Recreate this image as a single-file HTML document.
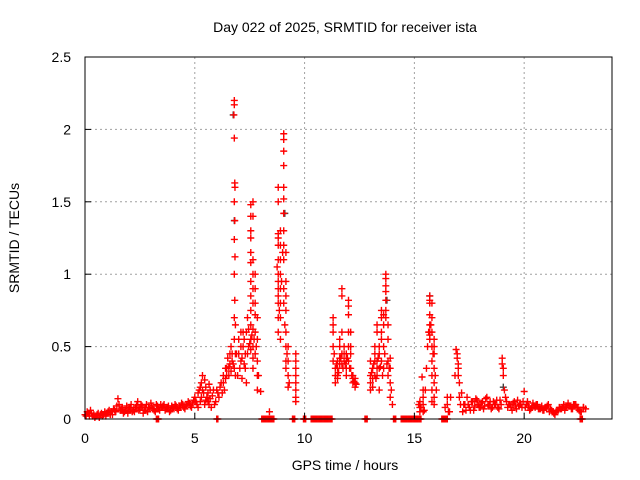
<!DOCTYPE html>
<html><head><meta charset="utf-8"><style>
html,body{margin:0;padding:0;background:#fff;}
svg{display:block;font-family:"Liberation Sans",sans-serif;}
</style></head><body>
<svg id="chart" width="640" height="480">
<text x="345" y="32" text-anchor="middle" font-size="14">Day 022 of 2025, SRMTID for receiver ista</text>
<text x="345" y="470" text-anchor="middle" font-size="14">GPS time / hours</text>
<text x="19" y="238" text-anchor="middle" font-size="14" transform="rotate(-90 19 238)">SRMTID / TECUs</text>
<g id="grid"></g><g id="marks"></g><g id="axes"></g>
</svg>
<script>
const xTicks=[0,5,10,15,20];
const yTicks=[0,0.5,1,1.5,2,2.5];
const yTickLabels=["0","0.5","1","1.5","2","2.5"];
const times=[0,0.05,0.1,0.2,0.25,0.3,0.4,0.45,0.5,0.6,0.7,0.8,0.9,1.0,1.1,1.2,1.3,1.4,1.5,1.55,1.6,1.7,1.8,1.9,2.0,2.1,2.2,2.3,2.4,2.5,2.6,2.7,2.8,2.9,3.0,3.1,3.2,3.3,3.4,3.5,3.6,3.7,3.8,3.9,4.0,4.1,4.2,4.3,4.4,4.5,4.6,4.7,4.8,4.9,
1.25,1.75,2.15,2.45,2.65,2.95,3.45,3.85,4.25,4.55,4.85,
5.0,5.1,5.2,5.25,5.3,5.35,5.4,5.45,5.5,5.55,5.6,5.7,5.75,5.8,5.9,6.0,6.1,6.2,6.25,6.3,6.35,6.4,6.45,6.5,6.55,6.6,6.65,6.7,
6.8,6.8,6.78,6.8,6.82,6.83,6.8,6.82,6.8,6.83,6.8,6.82,6.8,6.85,6.8,6.85,6.8,6.85,
7.0,7.0,7.05,7.1,7.1,7.15,7.2,7.25,7.3,7.35,7.35,7.4,7.45,
7.55,7.55,7.55,7.55,7.55,7.55,7.55,7.55,7.55,7.55,7.55,7.55,
7.65,7.65,7.65,7.65,7.65,7.65,7.65,7.65,7.65,7.65,
7.75,7.75,7.75,7.75,7.75,7.75,7.85,7.85,7.85,7.85,7.85,8.0,8.4,
8.8,8.8,8.8,8.8,8.8,8.8,8.8,8.8,8.8,8.8,8.8,8.8,8.8,
8.9,8.9,8.9,8.9,8.9,8.9,8.9,8.9,
9.05,9.05,9.05,9.05,9.05,9.05,9.05,9.05,9.05,9.05,9.05,9.05,
9.15,9.15,9.15,9.15,9.15,9.15,9.15,9.15,9.25,9.25,9.25,9.25,
9.6,9.6,9.6,9.6,9.6,9.6,9.6,9.6,
11.3,11.3,11.3,11.3,11.3,11.4,11.4,11.4,11.5,11.5,11.5,11.5,11.6,11.6,11.6,11.6,11.7,11.7,11.7,11.7,11.7,11.8,11.8,11.8,11.9,11.9,11.9,11.9,12.0,12.0,12.0,12.0,12.0,12.0,12.1,12.1,12.1,12.1,12.2,12.2,12.2,12.3,12.3,12.3,
13.0,13.0,13.0,13.0,13.1,13.1,13.1,13.2,13.2,13.2,13.2,13.3,13.3,13.3,13.3,13.3,13.4,13.4,13.4,13.4,13.5,13.5,13.5,13.5,13.5,13.6,13.6,13.6,13.6,13.7,13.7,13.7,13.7,13.7,13.7,13.7,13.8,13.8,13.8,13.8,13.9,13.9,13.9,13.9,
15.25,15.25,15.25,15.25,15.35,15.4,15.4,15.4,15.4,
15.7,15.7,15.7,15.7,15.7,15.7,15.7,15.7,15.8,15.8,15.8,15.8,15.8,15.8,15.8,15.8,15.9,15.9,15.9,15.9,15.9,15.9,15.9,
16.5,16.5,16.6,16.9,16.95,16.95,17.0,17.0,17.0,17.05,17.05,17.1,
17.2,17.3,17.4,17.5,17.6,17.7,17.8,17.9,18.0,18.1,18.2,18.3,18.4,18.5,18.6,18.7,18.8,18.9,
19.0,19.0,19.05,19.05,19.1,
19.2,19.3,19.4,19.5,19.6,19.7,19.8,19.9,20.0,20.1,20.2,20.3,20.4,20.5,20.6,20.7,20.8,20.9,21.0,21.1,21.2,21.3,21.4,21.5,21.6,21.7,21.8,21.9,22.0,22.1,22.2,22.3,22.4,22.5,22.6,22.7,22.8,
19.45,19.95,20.35,20.75,21.15,21.55,21.95,22.35,
3.3,6.0,8.1,8.2,8.3,8.45,8.6,9.5,10.0,10.3,10.45,10.6,10.75,10.9,11.05,11.2,12.8,14.1,14.4,14.55,14.7,14.85,15.0,15.15,15.3,16.3,16.45,22.6];
const values=[0.03,0.02,0.05,0.02,0.06,0.04,0.03,0.01,0.02,0.04,0.03,0.02,0.05,0.04,0.06,0.05,0.07,0.05,0.14,0.1,0.06,0.08,0.05,0.09,0.07,0.1,0.06,0.08,0.12,0.07,0.09,0.06,0.1,0.08,0.11,0.07,0.05,0.09,0.06,0.08,0.1,0.07,0.09,0.06,0.08,0.1,0.07,0.09,0.11,0.08,0.1,0.12,0.09,0.11,
0.03,0.04,0.05,0.06,0.04,0.07,0.1,0.05,0.06,0.07,0.08,
0.15,0.1,0.2,0.12,0.25,0.3,0.18,0.1,0.22,0.15,0.12,0.2,0.08,0.16,0.1,0.2,0.15,0.25,0.18,0.3,0.2,0.28,0.35,0.42,0.3,0.38,0.5,0.45,
2.2,2.17,2.1,1.94,1.63,1.6,1.5,1.37,1.24,1.12,1.0,0.82,0.7,0.65,0.55,0.45,0.35,0.3,
0.55,0.45,0.35,0.6,0.4,0.28,0.5,0.38,0.45,0.6,0.25,0.7,0.5,
1.48,1.4,1.3,1.25,1.15,1.08,0.95,0.85,0.75,0.65,0.55,0.48,
1.5,1.4,1.1,1.0,0.9,0.8,0.62,0.5,0.42,0.35,
1.0,0.9,0.8,0.72,0.6,0.45,0.7,0.55,0.4,0.3,0.2,0.19,0.05,
1.6,1.5,1.28,1.25,1.2,1.1,1.0,0.95,0.9,0.85,0.8,0.7,0.6,
1.3,1.2,1.1,1.0,0.9,0.8,0.7,0.55,
1.97,1.93,1.85,1.75,1.6,1.52,1.42,1.3,1.2,1.1,0.9,0.8,
1.15,0.95,0.85,0.75,0.6,0.5,0.4,0.35,0.5,0.4,0.3,0.22,
0.45,0.4,0.35,0.3,0.25,0.2,0.15,0.12,
0.7,0.65,0.6,0.5,0.4,0.35,0.3,0.25,0.4,0.35,0.3,0.28,0.55,0.5,0.42,0.38,0.9,0.85,0.6,0.45,0.38,0.5,0.45,0.4,0.45,0.4,0.35,0.3,0.82,0.78,0.72,0.6,0.5,0.4,0.6,0.5,0.45,0.35,0.3,0.28,0.25,0.28,0.25,0.22,
0.4,0.3,0.25,0.2,0.35,0.28,0.22,0.5,0.45,0.4,0.3,0.65,0.6,0.4,0.35,0.3,0.5,0.45,0.35,0.2,0.75,0.7,0.6,0.55,0.4,0.72,0.65,0.5,0.35,1.0,0.97,0.92,0.88,0.82,0.75,0.7,0.65,0.55,0.4,0.3,0.42,0.35,0.25,0.15,
0.12,0.1,0.08,0.05,0.29,0.2,0.15,0.1,0.05,
0.85,0.82,0.8,0.72,0.65,0.6,0.58,0.55,0.8,0.7,0.6,0.5,0.4,0.3,0.2,0.12,0.55,0.5,0.45,0.35,0.25,0.15,0.1,
0.15,0.1,0.05,0.48,0.45,0.42,0.38,0.35,0.3,0.25,0.15,0.1,
0.05,0.1,0.15,0.08,0.12,0.06,0.14,0.1,0.08,0.12,0.09,0.15,0.1,0.07,0.12,0.1,0.08,0.13,
0.42,0.38,0.35,0.3,0.2,
0.12,0.1,0.08,0.11,0.09,0.13,0.1,0.08,0.19,0.1,0.09,0.07,0.11,0.08,0.1,0.07,0.09,0.06,0.08,0.1,0.07,0.05,0.03,0.06,0.08,0.07,0.1,0.08,0.11,0.09,0.07,0.1,0.08,0.06,0.05,0.08,0.07,
0.06,0.12,0.08,0.07,0.05,0.06,0.09,0.1,
0,0,0,0,0,0,0,0,0,0,0,0,0,0,0,0,0,0,0,0,0,0,0,0,0,0,0,0];
const extraTimes=[0.15,0.35,0.55,0.65,0.75,0.85,0.95,1.05,1.15,1.35,1.45,1.65,1.85,1.95,2.05,2.25,2.35,2.55,2.75,2.85,3.05,3.15,3.25,3.35,3.55,3.65,3.75,3.95,4.05,4.15,4.35,4.45,4.65,4.75,4.95,
5.05,5.15,5.15,5.25,5.3,5.35,5.45,5.5,5.6,5.65,5.65,5.7,5.85,5.95,6.05,6.15,6.3,6.4,6.45,6.55,6.6,6.65,6.7,6.75,6.9,6.95,
7.1,7.15,7.2,7.25,7.3,7.4,7.45,7.5,7.6,7.7,7.8,7.9,
8.75,8.85,8.95,9.0,9.1,9.2,9.3,
11.35,11.45,11.55,11.65,11.75,11.85,11.95,12.05,12.15,12.25,12.35,
13.05,13.15,13.25,13.35,13.45,13.55,13.65,13.75,13.85,13.95,14.0,
15.2,15.3,15.45,15.5,15.55,15.6,15.65,15.75,15.85,15.95,16.0,16.4,16.55,16.65,16.85,17.15,17.25,17.35,
17.45,17.55,17.65,17.75,17.85,17.95,18.05,18.15,18.25,18.35,18.45,18.55,18.65,18.75,18.85,18.95,19.15,19.25,19.35,19.55,19.65,19.75,19.85,20.05,20.15,20.25,20.45,20.55,20.65,20.85,20.95,21.05,21.25,21.35,21.45,21.65,21.75,21.85,22.05,22.15,22.25,22.45,22.55,22.7,
3.25,3.35,6.05,8.05,8.15,8.25,8.35,8.4,8.5,8.55,9.45,9.55,9.95,10.05,10.35,10.4,10.5,10.55,10.65,10.7,10.8,10.85,10.95,11.0,11.1,11.15,11.25,12.75,12.85,14.05,14.15,14.45,14.5,14.6,14.65,14.75,14.8,14.9,14.95,15.05,15.1,15.2,15.25,16.25,16.35,16.4,16.5,22.55,22.65];
const extraValues=[0.04,0.02,0.03,0.01,0.04,0.03,0.02,0.05,0.03,0.06,0.09,0.07,0.06,0.04,0.08,0.05,0.09,0.1,0.08,0.05,0.09,0.06,0.1,0.07,0.09,0.06,0.08,0.09,0.07,0.09,0.08,0.1,0.09,0.11,0.13,
0.12,0.18,0.08,0.22,0.15,0.2,0.27,0.13,0.18,0.1,0.24,0.14,0.2,0.12,0.18,0.22,0.25,0.35,0.3,0.36,0.45,0.33,0.4,0.38,0.45,0.3,
0.5,0.42,0.6,0.55,0.35,0.45,0.62,0.52,0.58,0.55,0.5,0.3,
1.05,0.75,0.95,1.15,0.65,0.45,0.25,
0.45,0.38,0.32,0.42,0.35,0.38,0.42,0.35,0.3,0.26,0.24,
0.32,0.38,0.28,0.42,0.36,0.3,0.45,0.38,0.35,0.2,0.1,
0.1,0.08,0.06,0.2,0.35,0.5,0.6,0.65,0.45,0.3,0.2,0.08,0.05,0.15,0.3,0.18,0.1,0.06,
0.1,0.06,0.12,0.09,0.13,0.08,0.11,0.07,0.14,0.09,0.12,0.08,0.1,0.13,0.07,0.1,0.15,0.08,0.1,0.12,0.07,0.09,0.1,0.08,0.12,0.06,0.09,0.1,0.07,0.06,0.08,0.09,0.06,0.04,0.05,0.07,0.08,0.06,0.09,0.07,0.1,0.08,0.05,0.08,
0,0,0,0,0,0,0,0,0,0,0,0,0,0,0,0,0,0,0,0,0,0,0,0,0,0,0,0,0,0,0,0,0,0,0,0,0,0,0,0,0,0,0,0,0,0,0,0,0];
const grayTimes=[6.75,6.8,9.1,13.75,15.7,19.05];
const grayValues=[2.1,1.37,1.42,0.82,0.85,0.22];
const L=85,R=612,T=57,B=419,XMAX=24,YMAX=2.5;
const xs=t=>L+(R-L)*t/XMAX;
const ys=v=>B-(B-T)*v/YMAX;
const NS='http://www.w3.org/2000/svg';
function mk(tag,attrs,parent){const e=document.createElementNS(NS,tag);for(const k in attrs)e.setAttribute(k,attrs[k]);parent.appendChild(e);return e;}
const grid=document.getElementById('grid'),marks=document.getElementById('marks'),axes=document.getElementById('axes');
xTicks.forEach(t=>{
  if(t>0){const g=mk('line',{x1:xs(t),x2:xs(t),y1:T,y2:B,stroke:'#a0a0a0','stroke-dasharray':'2,3'},grid);
  
  }
  const tk=mk('line',{x1:xs(t),x2:xs(t),y1:B,y2:B-6,stroke:'#000'},axes);
  
  
  const lb=mk('text',{x:xs(t),y:B+24,'text-anchor':'middle','font-size':'14'},axes);lb.textContent=String(t);
  
  
});
yTicks.forEach((v,i)=>{
  if(v>0&&v<YMAX){const g=mk('line',{x1:L,x2:R,y1:ys(v),y2:ys(v),stroke:'#a0a0a0','stroke-dasharray':'2,3'},grid);
  
  }
  const tk=mk('line',{x1:L,x2:L+6,y1:ys(v),y2:ys(v),stroke:'#000'},axes);
  
  
  const lb=mk('text',{x:L-14,y:ys(v)+5,'text-anchor':'end','font-size':'14'},axes);lb.textContent=yTickLabels[i];
  
  
});
const frame=mk('rect',{x:L,y:T,width:R-L,height:B-T,fill:'none',stroke:'#000'},axes);


function plus(t,v,color,name){
  const x=xs(t),y=ys(v);
  const p=mk('path',{d:`M${x-3.5},${y}H${x+3.5}M${x},${y-3.5}V${y+3.5}`,stroke:color,'stroke-width':'1.4',fill:'none'},marks);
  
  
}
grayTimes.forEach((t,i)=>plus(t,grayValues[i],'#404040','gray-point'));
times.forEach((t,i)=>plus(t,values[i],'#ff0000','srmtid-point'));
extraTimes.forEach((t,i)=>plus(t,extraValues[i],'#ff0000','srmtid-point'));
</script>
</body></html>
